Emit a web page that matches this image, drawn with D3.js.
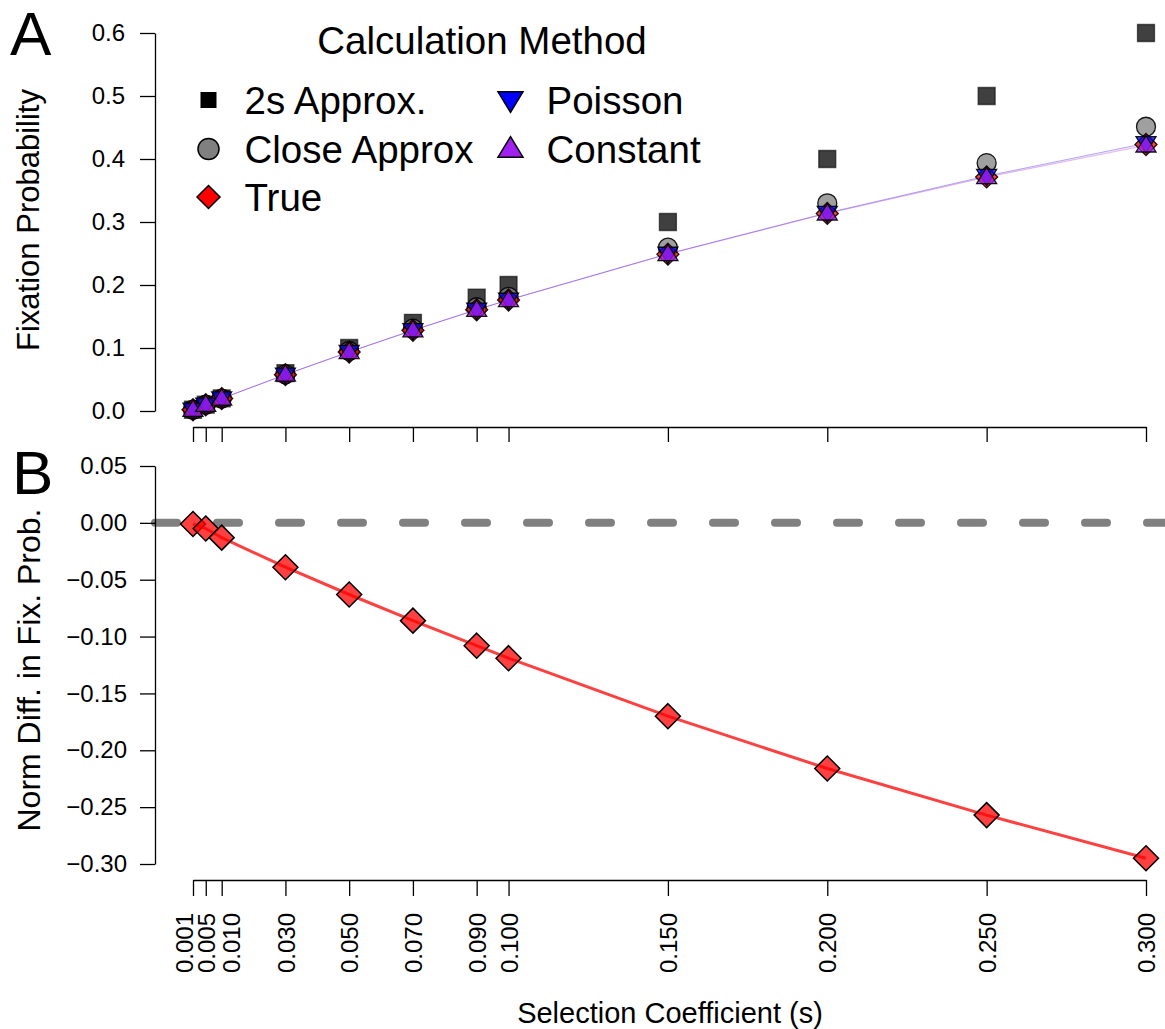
<!DOCTYPE html>
<html>
<head>
<meta charset="utf-8">
<script src="https://cdn.jsdelivr.net/npm/d3@7"></script>
<style>
  body { margin: 0; background: #fff; }
  svg { display: block; font-family: "Liberation Sans", Arial, sans-serif; }
</style>
</head>
<body>
<div id="chart"></div>
<script>
// selection coefficients and fixation probabilities
const sVals = [0.001, 0.005, 0.01, 0.03, 0.05, 0.07, 0.09, 0.1, 0.15, 0.2, 0.25, 0.3];
const sLabels = ["0.001", "0.005", "0.010", "0.030", "0.050", "0.070", "0.090", "0.100", "0.150", "0.200", "0.250", "0.300"];
const approx2s = [0.002, 0.01, 0.02, 0.06, 0.1, 0.14, 0.18, 0.2, 0.3, 0.4, 0.5, 0.6];
const closeApprox = [0.002, 0.00995, 0.0198, 0.0582, 0.0952, 0.1306, 0.1647, 0.1813, 0.2592, 0.3297, 0.3935, 0.4512];
const trueProb = [0.002, 0.00995, 0.01975, 0.0577, 0.0937, 0.128, 0.1606, 0.1762, 0.249, 0.3136, 0.3715, 0.423];
const poissonProb = [0.002, 0.00995, 0.0198, 0.0578, 0.0938, 0.1282, 0.1609, 0.1765, 0.2495, 0.3145, 0.373, 0.425];
const constantProb = [0.002, 0.00995, 0.01975, 0.0577, 0.0937, 0.128, 0.1606, 0.1762, 0.249, 0.3136, 0.3712, 0.4215];
const normDiff = [-0.001, -0.005, -0.013, -0.039, -0.063, -0.086, -0.108, -0.119, -0.170, -0.216, -0.257, -0.295];

const ticksA = [0, 0.1, 0.2, 0.3, 0.4, 0.5, 0.6];
const ticksB = [0.05, 0, -0.05, -0.1, -0.15, -0.2, -0.25, -0.3];

const width = 1165, height = 1029;

const svg = d3.select("#chart").append("svg")
    .attr("width", width)
    .attr("height", height);

const x = d3.scaleLinear().domain([0.001, 0.3]).range([193, 1146]);
const yA = d3.scaleLinear().domain([0, 0.6]).range([411, 33]);
const yB = d3.scaleLinear().domain([-0.3, 0.05]).range([864, 466]);

// marker shapes, centred on 0,0
function shape(type, s) {
    const h = s / 2;
    if (type === "square") return `M${-h},${-h}H${h}V${h}H${-h}Z`;
    if (type === "circle") return `M${h},0A${h},${h} 0 1 1 ${-h},0A${h},${h} 0 1 1 ${h},0Z`;
    if (type === "diamond") return `M0,${-h}L${h},0L0,${h}L${-h},0Z`;
    const th = s * 0.82;
    if (type === "up") return `M0,${-th * 0.6}L${h},${th * 0.4}L${-h},${th * 0.4}Z`;
    if (type === "down") return `M0,${th * 0.6}L${h},${-th * 0.4}L${-h},${-th * 0.4}Z`;
}

const series = [
    { name: "2s Approx.", values: approx2s, type: "square", fill: "#000", size: 17, legendSize: 16 },
    { name: "Close Approx", values: closeApprox, type: "circle", fill: "#808080", size: 19, legendSize: 21 },
    { name: "True", values: trueProb, type: "diamond", fill: "#ff0000", size: 22, legendSize: 23 },
    { name: "Poisson", values: poissonProb, type: "down", fill: "#0000ff", size: 20, legendSize: 25 },
    { name: "Constant", values: constantProb, type: "up", fill: "#a020f0", size: 20, legendSize: 25 }
];

// ---------- Panel A ----------
const gA = svg.append("g");

const line = d3.line().x((d, i) => x(sVals[i])).y(d => yA(d));
[["True", 0.12], ["Poisson", 0.35], ["Constant", 0.3]].forEach(([name, op]) => {
    const s = series.find(d => d.name === name);
    gA.append("path")
        .attr("d", line(s.values))
        .attr("fill", "none")
        .attr("stroke", s.fill)
        .attr("stroke-opacity", op)
        .attr("stroke-width", 1);
});

series.forEach(s => {
    gA.append("g")
        .selectAll("path")
        .data(s.values)
        .join("path")
        .attr("transform", (d, i) => `translate(${x(sVals[i])},${yA(d)})`)
        .attr("d", shape(s.type, s.size))
        .attr("fill", s.fill)
        .attr("fill-opacity", 0.75)
        .attr("stroke", "#000")
        .attr("stroke-opacity", s.type === "square" ? 0.6 : 0.9)
        .attr("stroke-width", 1.3);
});

gA.append("g")
    .attr("transform", "translate(155,0)")
    .call(d3.axisLeft(yA).tickValues(ticksA).tickFormat(d3.format(".1f")).tickSize(15).tickPadding(15).tickSizeOuter(0));

gA.append("g")
    .attr("transform", "translate(0,427)")
    .call(d3.axisBottom(x).tickValues(sVals).tickFormat("").tickSize(15).tickSizeOuter(0));

gA.append("text")
    .attr("transform", "translate(39,220) rotate(-90)")
    .attr("text-anchor", "middle")
    .attr("font-size", 31)
    .text("Fixation Probability");

gA.append("text")
    .attr("x", 10).attr("y", 55)
    .attr("font-size", 62)
    .text("A");

// legend
const legend = gA.append("g");
legend.append("text")
    .attr("x", 482).attr("y", 54)
    .attr("text-anchor", "middle")
    .attr("font-size", 38.5)
    .text("Calculation Method");

const legendPos = [[208.5, 100], [208.5, 149], [208.5, 197], [510.5, 100], [510.5, 149]];
series.forEach((s, i) => {
    const [lx, ly] = legendPos[i];
    legend.append("path")
        .attr("transform", `translate(${lx},${ly})`)
        .attr("d", shape(s.type, s.legendSize))
        .attr("fill", s.fill)
        .attr("stroke", s.type === "square" ? "none" : "#000")
        .attr("stroke-width", 1.5);
    legend.append("text")
        .attr("x", lx + 36).attr("y", ly + 14)
        .attr("font-size", 38.5)
        .text(s.name);
});

// ---------- Panel B ----------
const gB = svg.append("g");

gB.append("line")
    .attr("x1", 155).attr("x2", 1184)
    .attr("y1", yB(0)).attr("y2", yB(0))
    .attr("stroke", "#808080")
    .attr("stroke-width", 8)
    .attr("stroke-linecap", "round")
    .attr("stroke-dasharray", "22 40");

gB.append("path")
    .attr("d", d3.line().x((d, i) => x(sVals[i])).y(d => yB(d))(normDiff))
    .attr("fill", "none")
    .attr("stroke", "#ff0000")
    .attr("stroke-opacity", 0.75)
    .attr("stroke-width", 3);

gB.append("g")
    .selectAll("path")
    .data(normDiff)
    .join("path")
    .attr("transform", (d, i) => `translate(${x(sVals[i])},${yB(d)})`)
    .attr("d", shape("diamond", 25))
    .attr("fill", "#ff0000")
    .attr("fill-opacity", 0.75)
    .attr("stroke", "#000")
    .attr("stroke-width", 1.5);

gB.append("g")
    .attr("transform", "translate(155,0)")
    .call(d3.axisLeft(yB).tickValues(ticksB).tickFormat(d => d3.format(".2f")(d).replace("-", "\u2212")).tickSize(15).tickPadding(13).tickSizeOuter(0));

const axBx = gB.append("g")
    .attr("transform", "translate(0,880)")
    .call(d3.axisBottom(x).tickValues(sVals).tickFormat((d, i) => sLabels[i]).tickSize(16).tickSizeOuter(0));

// the three crowded labels at the left are pushed apart a little
const nudge = { "0.001": -9, "0.010": 9 };
axBx.selectAll("text")
    .attr("transform", "rotate(-90)")
    .attr("x", -33)
    .attr("y", (d, i) => nudge[sLabels[i]] || 0)
    .attr("dy", "0.36em")
    .attr("text-anchor", "end");

gB.append("text")
    .attr("transform", "translate(40,670) rotate(-90)")
    .attr("text-anchor", "middle")
    .attr("font-size", 32)
    .text("Norm Diff. in Fix. Prob.");

gB.append("text")
    .attr("x", 670).attr("y", 1023)
    .attr("text-anchor", "middle")
    .attr("font-size", 29)
    .text("Selection Coefficient (s)");

gB.append("text")
    .attr("x", 12).attr("y", 494)
    .attr("font-size", 62)
    .text("B");

// axis styling shared by both panels
svg.selectAll(".tick text")
    .attr("font-size", 24)
    .attr("font-family", "\"Liberation Sans\", Arial, sans-serif")
    .attr("fill", "#000");
svg.selectAll(".domain, .tick line")
    .attr("stroke", "#000")
    .attr("stroke-width", 1.3);
</script>
</body>
</html>
